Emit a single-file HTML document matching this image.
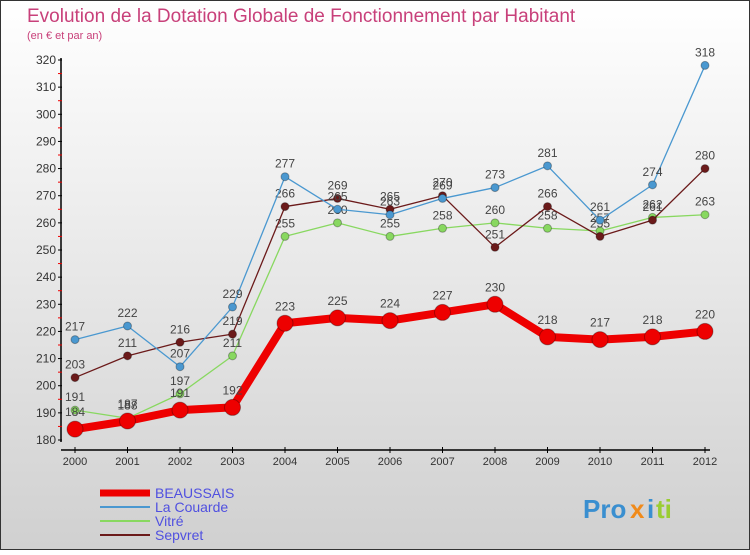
<!DOCTYPE html>
<html><head><meta charset="utf-8"><style>
body{margin:0;width:750px;height:550px;overflow:hidden;font-family:"Liberation Sans",sans-serif}
</style></head><body>
<svg width="750" height="550" xmlns="http://www.w3.org/2000/svg">
<defs><linearGradient id="bg" x1="0" y1="0" x2="0" y2="1"><stop offset="0" stop-color="#ffffff"/><stop offset="1" stop-color="#d0d0d0"/></linearGradient></defs>
<rect x="0.5" y="0.5" width="749" height="549" fill="url(#bg)" stroke="#333"/>
<text x="27" y="22" font-size="19" fill="#c8407a">Evolution de la Dotation Globale de Fonctionnement par Habitant</text>
<text x="27" y="39" font-size="11" fill="#c8407a">(en € et par an)</text>
<g id="axes"></g>
<g id="series"></g>
<g id="legend"></g>
<g font-size="26" font-weight="bold">
<text x="583" y="518" fill="#3a8fd0">Pro</text><text x="630" y="518" fill="#f08a1a">x</text><text x="647" y="518" fill="#3a8fd0">i</text><text x="656" y="518" fill="#9acd32">ti</text>
</g>
</svg>
<script>
const years=[2000,2001,2002,2003,2004,2005,2006,2007,2008,2009,2010,2011,2012];
const yTicks=[180,190,200,210,220,230,240,250,260,270,280,290,300,310,320];
const beaussais=[184,187,191,192,223,225,224,227,230,218,217,218,220];
const laCouarde=[217,222,207,229,277,265,263,269,273,281,261,274,318];
const vitre=[191,188,197,211,255,260,255,258,260,258,257,262,263];
const sepvret=[203,211,216,219,266,269,265,270,251,266,255,261,280];
const NS="http://www.w3.org/2000/svg";
const X=i=>75+i*52.5;
const Y=v=>440-(v-180)*(380/140);
function mk(t,a,p){const e=document.createElementNS(NS,t);for(const k in a)e.setAttribute(k,a[k]);p.appendChild(e);return e;}
const ax=document.getElementById('axes');
let l=mk('line',{x1:61,y1:58,x2:61,y2:442,stroke:'#000','stroke-width':1.5},ax);


l=mk('line',{x1:61,y1:450,x2:710,y2:450,stroke:'#000','stroke-width':1.5},ax);


yTicks.forEach((v,i)=>{
 mk('line',{x1:58,y1:Y(v),x2:62,y2:Y(v),stroke:'#000'},ax);
 if(i<yTicks.length-1)mk('line',{x1:58,y1:Y(v+5),x2:62,y2:Y(v+5),stroke:'#e00'},ax);
 const t=mk('text',{x:56,y:Y(v)+4,'font-size':12,'text-anchor':'end',fill:'#333'},ax);t.textContent=v;
 
 
});
years.forEach((yr,i)=>{
 mk('line',{x1:X(i),y1:447,x2:X(i),y2:453,stroke:'#000'},ax);
 const t=mk('text',{x:X(i),y:465,'font-size':11,'text-anchor':'middle',fill:'#333'},ax);t.textContent=yr;
 
 
});
const sg=document.getElementById('series');
function draw(data,color,w,r,name){
 const g=mk('g',{},sg);
 
 
 mk('polyline',{points:data.map((v,i)=>X(i)+','+Y(v)).join(' '),fill:'none',stroke:color,'stroke-width':w,'stroke-linejoin':'round'},g);
 data.forEach((v,i)=>{
  const c=mk('circle',{cx:X(i),cy:Y(v),r:r,fill:color,stroke:'rgba(0,0,0,0.3)','stroke-width':1},g);
  
  
  const t=mk('text',{x:X(i),y:Y(v)-r-5,'font-size':12,'text-anchor':'middle',fill:'#444'},g);t.textContent=v;
  
  
 });
}
draw(vitre,'#88d860',1.3,4,'vitre');
draw(sepvret,'#6b1a1a',1.3,4,'sepvret');
draw(laCouarde,'#4a98d0',1.3,4,'la-couarde');
draw(beaussais,'#ee0000',8,8,'beaussais');
const lg=document.getElementById('legend');
[['BEAUSSAIS','#ee0000',7],['La Couarde','#4a98d0',2],['Vitré','#88d860',2],['Sepvret','#6b1a1a',2]].forEach((s,i)=>{
 const y=493+i*14;
 const g=mk('g',{},lg);
 
 
 mk('line',{x1:100,y1:y,x2:150,y2:y,stroke:s[1],'stroke-width':s[2]},g);
 const t=mk('text',{x:155,y:y+5,'font-size':14,fill:'#5050e0'},g);t.textContent=s[0];
});
</script>
</body></html>
